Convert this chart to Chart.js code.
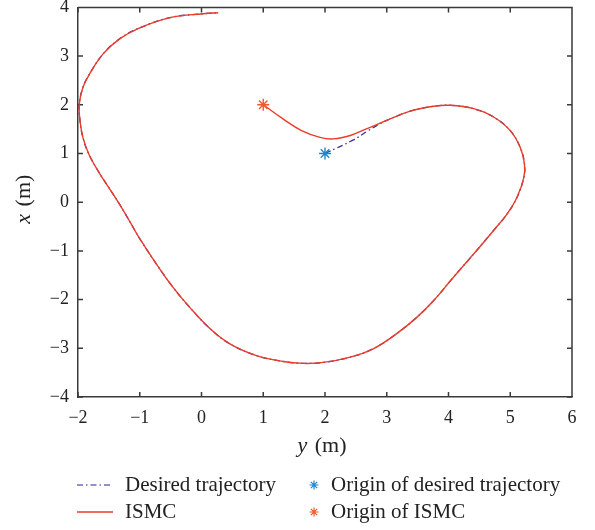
<!DOCTYPE html>
<html>
<head>
<meta charset="utf-8">
<script src="https://cdn.jsdelivr.net/npm/chart.js@4/dist/chart.umd.min.js"></script>
<style>
  html, body { margin: 0; padding: 0; background: #fff; }
  #wrap { width: 595px; height: 530px; position: relative; }
</style>
</head>
<body>
<div id="wrap"><canvas id="c"></canvas></div>
<script>
// Axis ranges and ticks
const xTicks = [-2, -1, 0, 1, 2, 3, 4, 5, 6];
const yTicks = [-4, -3, -2, -1, 0, 1, 2, 3, 4];

// Trajectory samples: horizontal = y (m), vertical = x (m)
const ismcY = [1.00, 1.32, 1.62, 1.92, 2.14, 2.41, 2.68, 3.00, 3.38, 3.76, 4.03, 4.41, 4.73, 5.00, 5.16, 5.23, 5.22, 5.11, 4.95, 4.73, 4.41, 4.08, 3.76, 3.49, 3.16, 2.78, 2.41, 1.97, 1.65, 1.32, 0.89, 0.46, 0.14, -0.19, -0.46, -0.73, -1.00, -1.16, -1.328, -1.501, -1.674, -1.822, -1.919, -1.966, -1.98, -1.92, -1.81, -1.59, -1.32, -1.00, -0.51, 0.03, 0.27];
const ismcX = [2.00, 1.71, 1.47, 1.33, 1.30, 1.37, 1.51, 1.68, 1.87, 1.97, 1.99, 1.92, 1.75, 1.47, 1.13, 0.79, 0.51, 0.10, -0.24, -0.58, -1.06, -1.54, -2.02, -2.36, -2.70, -3.01, -3.18, -3.29, -3.31, -3.27, -3.15, -2.91, -2.60, -2.16, -1.75, -1.27, -0.75, -0.40, -0.04, 0.30, 0.64, 0.98, 1.32, 1.66, 2.00, 2.36, 2.64, 3.05, 3.36, 3.58, 3.79, 3.87, 3.89];

const desiredY = [2.00, 2.46, 2.70, 2.89, 3.00, 3.38, 3.76, 4.03, 4.41, 4.73, 5.00, 5.16, 5.23, 5.22, 5.11, 4.95, 4.73, 4.41, 4.08, 3.76, 3.49, 3.16, 2.78, 2.41, 1.97, 1.65, 1.32, 0.89, 0.46, 0.14, -0.19, -0.46, -0.73, -1.00, -1.16, -1.328, -1.501, -1.674, -1.822, -1.919, -1.966, -1.98, -1.92, -1.81, -1.59, -1.32, -1.00, -0.51, 0.03, 0.27];
const desiredX = [1.00, 1.28, 1.47, 1.61, 1.68, 1.87, 1.97, 1.99, 1.92, 1.75, 1.47, 1.13, 0.79, 0.51, 0.10, -0.24, -0.58, -1.06, -1.54, -2.02, -2.36, -2.70, -3.01, -3.18, -3.29, -3.31, -3.27, -3.15, -2.91, -2.60, -2.16, -1.75, -1.27, -0.75, -0.40, -0.04, 0.30, 0.64, 0.98, 1.32, 1.66, 2.00, 2.36, 2.64, 3.05, 3.36, 3.58, 3.79, 3.87, 3.89];

const originDesired = [2, 1];
const originIsmc = [1, 2];

const seriesNames = ['Desired trajectory', 'ISMC', 'Origin of desired trajectory', 'Origin of ISMC'];

const colDesired = '#3d2e9e';
const colDesiredLegend = '#7468c0';
const colIsmc = '#ea3c28';
const colOriginDesired = '#1f86cf';
const colOriginIsmc = '#f0582a';
const axisColor = '#3a3a3a';
const serif = '"Liberation Serif", "DejaVu Serif", serif';

const toPoints = (xs, ys) => xs.map((v, i) => ({ x: v, y: ys[i] }));
const minus = v => String(v).replace('-', '\u2212');

// Box frame (top/right) and inward tick marks on all four sides
const framePlugin = {
  id: 'frame',
  beforeDatasetsDraw(chart) {
    const { ctx, chartArea: a, scales: { x, y } } = chart;
    ctx.save();
    ctx.strokeStyle = axisColor;
    ctx.lineWidth = 1.5;
    ctx.beginPath();
    ctx.moveTo(a.left, a.top); ctx.lineTo(a.right, a.top); ctx.lineTo(a.right, a.bottom);
    const L = 5;
    x.ticks.forEach(t => {
      const px = x.getPixelForValue(t.value);
      ctx.moveTo(px, a.bottom); ctx.lineTo(px, a.bottom - L);
      ctx.moveTo(px, a.top); ctx.lineTo(px, a.top + L);
    });
    y.ticks.forEach(t => {
      const py = y.getPixelForValue(t.value);
      ctx.moveTo(a.left, py); ctx.lineTo(a.left + L, py);
      ctx.moveTo(a.right, py); ctx.lineTo(a.right - L, py);
    });
    ctx.stroke();
    ctx.restore();
  }
};

// Axis titles with italic variable names
const titlePlugin = {
  id: 'titles',
  afterDraw(chart) {
    const { ctx, chartArea: a } = chart;
    const size = 22;
    const drawTitle = (v) => {
      ctx.font = `italic ${size}px ${serif}`;
      const w1 = ctx.measureText(v).width + 2;
      ctx.font = `${size}px ${serif}`;
      const rest = ' (m)';
      const w2 = ctx.measureText(rest).width;
      const start = -(w1 + w2) / 2;
      ctx.font = `italic ${size}px ${serif}`;
      ctx.fillText(v, start, 0);
      ctx.font = `${size}px ${serif}`;
      ctx.fillText(rest, start + w1, 0);
    };
    ctx.save();
    ctx.fillStyle = '#222';
    ctx.textBaseline = 'middle';
    ctx.textAlign = 'left';
    ctx.save();
    ctx.translate((a.left + a.right) / 2 - 3, 446);
    drawTitle('y');
    ctx.restore();
    ctx.save();
    ctx.translate(24, (a.top + a.bottom) / 2 - 3);
    ctx.rotate(-Math.PI / 2);
    drawTitle('x');
    ctx.restore();
    ctx.restore();
  }
};

// Two-column legend under the plot
const legendPlugin = {
  id: 'legend2col',
  afterDraw(chart) {
    const { ctx } = chart;
    const rows = [485, 512];
    ctx.save();
    ctx.font = `21px ${serif}`;
    ctx.fillStyle = '#222';
    ctx.textBaseline = 'middle';
    ctx.textAlign = 'left';
    // Desired trajectory sample
    ctx.strokeStyle = colDesiredLegend;
    ctx.lineWidth = 1.3;
    ctx.setLineDash([6, 3, 1.5, 3]);
    ctx.beginPath(); ctx.moveTo(77, rows[0]); ctx.lineTo(113, rows[0]); ctx.stroke();
    ctx.setLineDash([]);
    ctx.strokeStyle = colIsmc;
    ctx.beginPath(); ctx.moveTo(77, rows[1]); ctx.lineTo(113, rows[1]); ctx.stroke();
    ctx.fillText(seriesNames[0], 125, rows[0]);
    ctx.fillText(seriesNames[1], 125, rows[1]);
    const star = (cx, cy, r, col) => {
      ctx.strokeStyle = col; ctx.lineWidth = 1.2;
      ctx.beginPath();
      for (let k = 0; k < 4; k++) {
        const ang = k * Math.PI / 4;
        ctx.moveTo(cx - r * Math.cos(ang), cy - r * Math.sin(ang));
        ctx.lineTo(cx + r * Math.cos(ang), cy + r * Math.sin(ang));
      }
      ctx.stroke();
    };
    star(314, rows[0], 4.5, colOriginDesired);
    star(314, rows[1], 4.5, colOriginIsmc);
    ctx.fillText(seriesNames[2], 331, rows[0]);
    ctx.fillText(seriesNames[3], 331, rows[1]);
    ctx.restore();
  }
};

new Chart(document.getElementById('c'), {
  type: 'scatter',
  data: {
    datasets: [
      {
        label: seriesNames[0],
        data: toPoints(desiredY, desiredX),
        showLine: true, borderColor: colDesired, borderWidth: 1.3,
        borderDash: [6, 3, 1.5, 3], pointRadius: 0, tension: 0.4, order: 3
      },
      {
        label: seriesNames[1],
        data: toPoints(ismcY, ismcX),
        showLine: true, borderColor: colIsmc, borderWidth: 1.4,
        pointRadius: 0, tension: 0.4, order: 2
      },
      {
        label: seriesNames[2],
        data: [{ x: originDesired[0], y: originDesired[1] }],
        pointStyle: 'star', pointRadius: 6, borderWidth: 1.4,
        borderColor: colOriginDesired, backgroundColor: colOriginDesired, order: 1
      },
      {
        label: seriesNames[3],
        data: [{ x: originIsmc[0], y: originIsmc[1] }],
        pointStyle: 'star', pointRadius: 6, borderWidth: 1.4,
        borderColor: colOriginIsmc, backgroundColor: colOriginIsmc, order: 1
      }
    ]
  },
  options: {
    responsive: true,
    maintainAspectRatio: false,
    animation: false,
    events: [],
    layout: { padding: { left: 0, top: 6, right: 23, bottom: 73 } },
    plugins: { legend: { display: false }, tooltip: { enabled: false } },
    scales: {
      x: {
        type: 'linear', min: xTicks[0], max: xTicks[xTicks.length - 1],
        afterBuildTicks: s => { s.ticks = xTicks.map(v => ({ value: v })); },
        afterFit: s => { s.height = 60; s.paddingLeft = 0; s.paddingRight = 0; },
        grid: { display: false, drawTicks: false },
        border: { display: true, color: axisColor, width: 1.5 },
        ticks: { padding: 10, color: '#222', font: { family: serif, size: 18 }, callback: v => minus(v) }
      },
      y: {
        type: 'linear', min: yTicks[0], max: yTicks[yTicks.length - 1],
        afterBuildTicks: s => { s.ticks = yTicks.map(v => ({ value: v })); },
        afterFit: s => { s.width = 78; s.paddingTop = 0; s.paddingBottom = 0; },
        grid: { display: false, drawTicks: false },
        border: { display: true, color: axisColor, width: 1.5 },
        ticks: { padding: 9, color: '#222', font: { family: serif, size: 18 }, callback: v => minus(v) }
      }
    }
  },
  plugins: [framePlugin, titlePlugin, legendPlugin]
});
</script>
</body>
</html>
